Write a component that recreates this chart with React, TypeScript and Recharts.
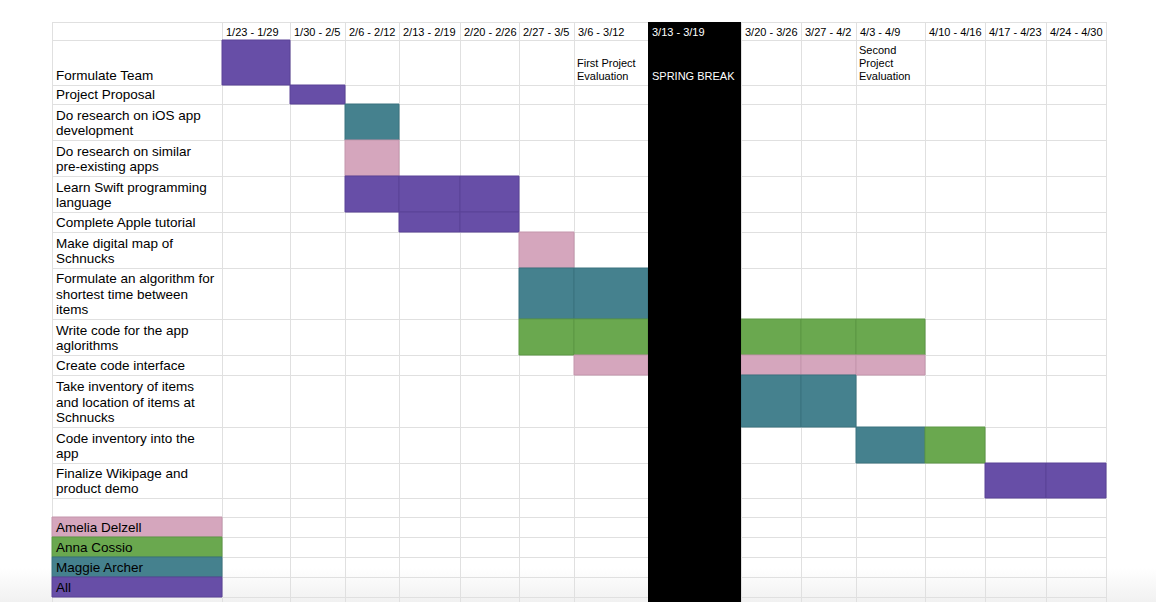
import React from "react";
import { ComposedChart, XAxis, YAxis, ReferenceArea, CartesianGrid } from "recharts";

// ---------- data ----------
const weeks = [
  "1/23 - 1/29", "1/30 - 2/5", "2/6 - 2/12", "2/13 - 2/19", "2/20 - 2/26",
  "2/27 - 3/5", "3/6 - 3/12", "3/13 - 3/19", "3/20 - 3/26", "3/27 - 4/2",
  "4/3 - 4/9", "4/10 - 4/16", "4/17 - 4/23", "4/24 - 4/30",
];

const tasks = [
  "Formulate Team",
  "Project Proposal",
  "Do research on iOS app development",
  "Do research on similar pre-existing apps",
  "Learn Swift programming language",
  "Complete Apple tutorial",
  "Make digital map of Schnucks",
  "Formulate an algorithm for shortest time between items",
  "Write code for the app aglorithms",
  "Create code interface",
  "Take inventory of items and location of items at Schnucks",
  "Code inventory into the app",
  "Finalize Wikipage and product demo",
];

const people = ["Amelia Delzell", "Anna Cossio", "Maggie Archer", "All"];

// task index, person index, first week, last week
const assignments = [
  { task: 0, person: 3, from: 0, to: 0 },
  { task: 1, person: 3, from: 1, to: 1 },
  { task: 2, person: 2, from: 2, to: 2 },
  { task: 3, person: 0, from: 2, to: 2 },
  { task: 4, person: 3, from: 2, to: 4 },
  { task: 5, person: 3, from: 3, to: 4 },
  { task: 6, person: 0, from: 5, to: 5 },
  { task: 7, person: 2, from: 5, to: 6 },
  { task: 8, person: 1, from: 5, to: 6 },
  { task: 8, person: 1, from: 8, to: 10 },
  { task: 9, person: 0, from: 6, to: 6 },
  { task: 9, person: 0, from: 8, to: 10 },
  { task: 10, person: 2, from: 8, to: 9 },
  { task: 11, person: 2, from: 10, to: 10 },
  { task: 11, person: 1, from: 11, to: 11 },
  { task: 12, person: 3, from: 12, to: 13 },
];

const milestones = [
  { week: 6, text: "First Project Evaluation" },
  { week: 10, text: "Second Project Evaluation" },
];

const springBreak = { week: 7, text: "SPRING BREAK" };

// ---------- layout / style ----------
const FONT = '"Liberation Sans", Arial, Helvetica, sans-serif';
const personFill = ["#d5a6bd", "#6aa84f", "#45818e", "#674ea7"];
const personStroke = ["#c495ac", "#5c9744", "#3b727e", "#5a4397"];
const GRID = "#e0e0e0";

const LABEL_COL_W = 170;
const weekColWidths = [68, 55, 54, 61, 59, 55, 74, 93, 60, 55, 69, 60, 61, 60];
const HEADER_H = 18;
const taskRowHeights = [45, 19, 36, 36, 36, 20, 36, 51, 36, 20, 52, 36, 35];
const GAP_ROW_H = 19;
const LEGEND_ROW_H = 20;
const EXTRA_ROWS = 1;

const colEdges: number[] = [LABEL_COL_W];
weekColWidths.forEach((w) => colEdges.push(colEdges[colEdges.length - 1] + w));
const TOTAL_W = colEdges[colEdges.length - 1];

const rowEdges: number[] = [HEADER_H];
taskRowHeights.forEach((h) => rowEdges.push(rowEdges[rowEdges.length - 1] + h));
const TASKS_END = rowEdges[rowEdges.length - 1];
const LEGEND_START = TASKS_END + GAP_ROW_H;
const legendEdges: number[] = [LEGEND_START];
for (let i = 0; i < people.length + EXTRA_ROWS; i++) legendEdges.push(legendEdges[legendEdges.length - 1] + LEGEND_ROW_H);

const CHART_W = 1156;
const CHART_H = 602;
const LEFT = 52;
const TOP = 22;
const TOTAL_H = CHART_H - TOP;

// ---------- text helpers ----------
let ctx: CanvasRenderingContext2D | null = null;
function measure(text: string, size: number) {
  if (!ctx) ctx = document.createElement("canvas").getContext("2d");
  if (!ctx) return text.length * size * 0.55;
  ctx.font = `${size}px ${FONT}`;
  return ctx.measureText(text).width;
}
function wrap(text: string, maxW: number, size: number) {
  const words = text.split(" ");
  const lines: string[] = [];
  let cur = "";
  for (const w of words) {
    const t = cur ? cur + " " + w : w;
    if (cur && measure(t, size) > maxW) {
      lines.push(cur);
      cur = w;
    } else cur = t;
  }
  if (cur) lines.push(cur);
  return lines;
}

function CellText(props: any) {
  const { viewBox, text, size, lineHeight, color, padLeft, padRight, padBottom } = props;
  if (!viewBox) return null;
  const { x, y, width, height } = viewBox;
  const lines = wrap(text, width - padLeft - padRight, size);
  const base = y + height - padBottom;
  return (
    <text fontFamily={FONT} fontSize={size} fill={color}>
      {lines.map((l, i) => (
        <tspan key={i} x={x + padLeft} y={base - (lines.length - 1 - i) * lineHeight}>
          {l}
        </tspan>
      ))}
    </text>
  );
}

const hLines = [0, ...rowEdges, ...legendEdges].filter((v) => v <= TOTAL_H);
const vLines = [0, ...colEdges];

export default function App() {
  const cells: { task: number; person: number; week: number }[] = [];
  assignments.forEach((a) => {
    for (let w = a.from; w <= a.to; w++) cells.push({ task: a.task, person: a.person, week: w });
  });

  // grid extents used to feed both numeric axes
  const extent = [
    { x: 0, y: 0 },
    { x: TOTAL_W, y: TOTAL_H },
  ];

  return (
    <div
      style={{
        position: "absolute",
        left: 0,
        top: 0,
        width: CHART_W,
        height: CHART_H,
        overflow: "hidden",
        background: "linear-gradient(to bottom, #ffffff 0px, #ffffff 568px, #f1f1f1 602px)",
      }}
    >
      <ComposedChart
        width={CHART_W}
        height={CHART_H}
        data={extent}
        margin={{ top: TOP, left: LEFT, right: CHART_W - LEFT - TOTAL_W, bottom: 0 }}
      >
        <XAxis type="number" dataKey="x" domain={[0, TOTAL_W]} hide allowDataOverflow />
        <YAxis type="number" dataKey="y" domain={[0, TOTAL_H]} reversed hide allowDataOverflow />

        <CartesianGrid
          stroke={GRID}
          strokeWidth={1}
          shapeRendering="crispEdges"
          horizontalCoordinatesGenerator={(p: any) =>
            hLines.map((v) =>
              p.yAxis && typeof p.yAxis.scale === "function" ? p.yAxis.scale(v) : p.offset.top + (v * p.offset.height) / TOTAL_H
            )
          }
          verticalCoordinatesGenerator={(p: any) =>
            vLines.map((v) =>
              p.xAxis && typeof p.xAxis.scale === "function" ? p.xAxis.scale(v) : p.offset.left + (v * p.offset.width) / TOTAL_W
            )
          }
        />

        {/* header week labels */}
        {weeks.map((w, i) =>
          i === springBreak.week ? null : (
            <ReferenceArea
              key={"wk" + i}
              x1={colEdges[i]}
              x2={colEdges[i + 1]}
              y1={0}
              y2={HEADER_H}
              fill="none"
              fillOpacity={0}
              stroke="none"
              label={<CellText text={w} size={11} lineHeight={13} color="#000" padLeft={4} padRight={0} padBottom={4} />}
            />
          )
        )}

        {/* task labels */}
        {tasks.map((t, i) => (
          <ReferenceArea
            key={"t" + i}
            x1={0}
            x2={LABEL_COL_W}
            y1={rowEdges[i]}
            y2={rowEdges[i + 1]}
            fill="none"
            fillOpacity={0}
            stroke="none"
            label={<CellText text={t} size={13.5} lineHeight={15.3} color="#000" padLeft={4} padRight={4} padBottom={5} />}
          />
        ))}

        {/* gantt cells */}
        {cells.map((c, i) => (
          <ReferenceArea
            key={"c" + i}
            x1={colEdges[c.week]}
            x2={colEdges[c.week + 1]}
            y1={rowEdges[c.task]}
            y2={rowEdges[c.task + 1]}
            fill={personFill[c.person]}
            fillOpacity={1}
            stroke={personStroke[c.person]}
            strokeWidth={1}
          />
        ))}

        {/* milestones */}
        {milestones.map((m, i) => (
          <ReferenceArea
            key={"m" + i}
            x1={colEdges[m.week]}
            x2={colEdges[m.week + 1]}
            y1={rowEdges[0]}
            y2={rowEdges[1]}
            fill="none"
            fillOpacity={0}
            stroke="none"
            label={<CellText text={m.text} size={11} lineHeight={13} color="#000" padLeft={3} padRight={3} padBottom={5.5} />}
          />
        ))}

        {/* spring break */}
        <ReferenceArea
          x1={colEdges[springBreak.week]}
          x2={colEdges[springBreak.week + 1]}
          y1={0}
          y2={TOTAL_H}
          fill="#000000"
          fillOpacity={1}
          stroke="none"
        />
        <ReferenceArea
          x1={colEdges[springBreak.week]}
          x2={colEdges[springBreak.week + 1]}
          y1={0}
          y2={HEADER_H}
          fill="none"
          fillOpacity={0}
          stroke="none"
          label={<CellText text={weeks[springBreak.week]} size={11} lineHeight={13} color="#ffffff" padLeft={4} padRight={0} padBottom={4} />}
        />
        <ReferenceArea
          x1={colEdges[springBreak.week]}
          x2={colEdges[springBreak.week + 1]}
          y1={rowEdges[0]}
          y2={rowEdges[1]}
          fill="none"
          fillOpacity={0}
          stroke="none"
          label={<CellText text={springBreak.text} size={11} lineHeight={13} color="#ffffff" padLeft={4} padRight={0} padBottom={5.5} />}
        />

        {/* legend */}
        {people.map((p, i) => (
          <ReferenceArea
            key={"p" + i}
            x1={0}
            x2={LABEL_COL_W}
            y1={legendEdges[i]}
            y2={legendEdges[i + 1]}
            fill={personFill[i]}
            fillOpacity={1}
            stroke={personStroke[i]}
            strokeWidth={1}
            label={<CellText text={p} size={13.5} lineHeight={15} color="#000" padLeft={4} padRight={4} padBottom={5} />}
          />
        ))}
      </ComposedChart>
    </div>
  );
}
